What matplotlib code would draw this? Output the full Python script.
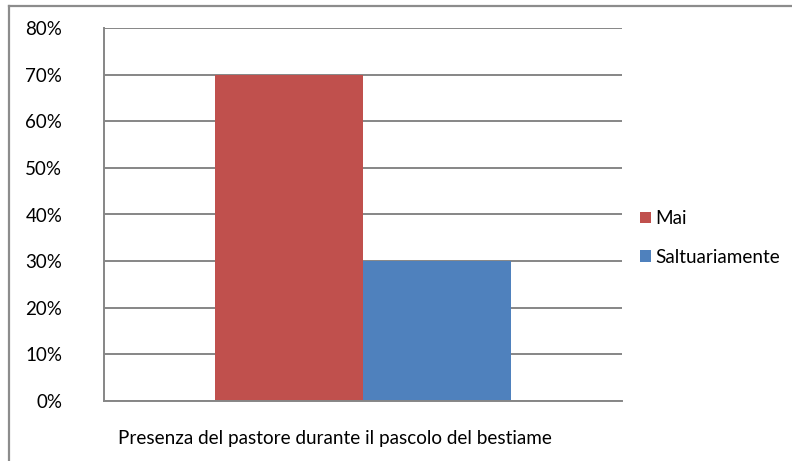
import matplotlib

matplotlib.use("Agg")
import matplotlib.pyplot as plt
from matplotlib.lines import Line2D
from matplotlib.ticker import FuncFormatter

plt.rcParams["font.family"] = ["Lato", "DejaVu Sans"]

category_label = "Presenza del pastore durante il pascolo del bestiame"
series_names = ["Mai", "Saltuariamente"]
series_values = [70, 30]
series_colors = ["#C0504D", "#4F81BD"]
y_ticks = [0, 10, 20, 30, 40, 50, 60, 70, 80]

W, H = 792, 461
fig = plt.figure(figsize=(W / 100, H / 100), dpi=100)
ax = fig.add_axes([104 / W, 1 - 401 / H, (622 - 104) / W, (401 - 28) / H])

grid_col = "#868686"
bar_w = 148 / 518
offsets = [-bar_w / 2, bar_w / 2]
for name, val, col, off in zip(series_names, series_values, series_colors, offsets):
    ax.bar(0.5 + off, val, width=bar_w, color=col, label=name, zorder=2)

ax.set_xlim(0, 1)
ax.set_ylim(0, 80)
ax.set_yticks(y_ticks)
ax.yaxis.set_major_formatter(FuncFormatter(lambda v, _: f"{v:.0f}%"))
ax.set_xticks([])
ax.tick_params(axis="y", length=0, pad=30, labelsize=13.5, labelcolor="#000000")
ax.grid(axis="y", color=grid_col, lw=1.4, zorder=1)
ax.set_axisbelow(True)
for side in ("top", "right"):
    ax.spines[side].set_visible(False)
for side in ("left", "bottom"):
    ax.spines[side].set_color(grid_col)
    ax.spines[side].set_linewidth(1.4)

fig.text(335 / W, 1 - 438 / H, category_label, ha="center", va="center", fontsize=13.6)

ax.legend(
    loc="center left",
    bbox_to_anchor=(631 / W, 1 - 238 / H),
    bbox_transform=fig.transFigure,
    frameon=False,
    fontsize=13.6,
    handlelength=0.55,
    handleheight=0.55,
    handletextpad=0.25,
    labelspacing=1.15,
    borderpad=0,
)

# chart border (left and top edges visible)
fig.add_artist(Line2D([8.5 / W, 8.5 / W], [0, 1 - 6.5 / H], transform=fig.transFigure, color="#8C8C8C", lw=1.6))
fig.add_artist(Line2D([8.5 / W, 1], [1 - 6.5 / H, 1 - 6.5 / H], transform=fig.transFigure, color="#8C8C8C", lw=1.6))

fig.savefig("out.png", dpi=100)
